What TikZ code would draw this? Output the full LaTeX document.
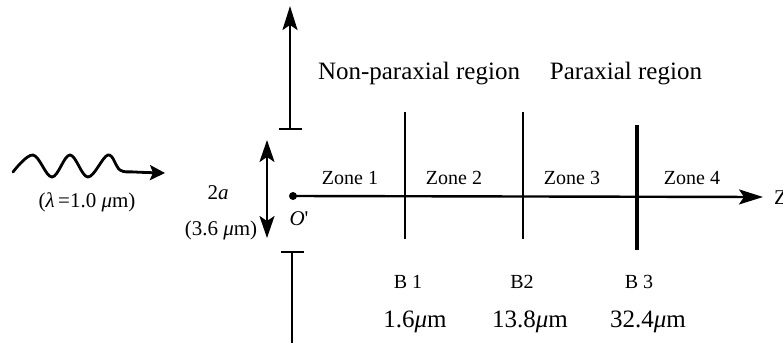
\documentclass[tikz,border=0pt]{standalone}
\usepackage{fontspec}
\setmainfont{Liberation Serif}
\usetikzlibrary{arrows.meta}
\begin{document}
\begin{tikzpicture}[x=1pt,y=-1pt,
  line/.style={line width=2.4pt},
  arr/.style={-{Stealth[length=24pt,width=15pt,inset=5pt]}},
  lbl/.style={inner sep=0pt,font=\fontsize{21}{23}\selectfont},
  big/.style={inner sep=0pt,font=\fontsize{25}{28}\selectfont},
  zone/.style={inner sep=0pt,font=\fontsize{20}{22}\selectfont}]
\useasboundingbox (0,0) rectangle (783,343);
% incident wave
\draw[line width=2.8pt,-{Stealth[length=15pt,width=15pt,inset=3pt]},line cap=round] plot[smooth,tension=0.6] coordinates {(13,172) (33,155) (52,177) (70,155) (88,177) (108,155) (120,170) (135,172) (165,173)};
\node[lbl] (lam) at (87,202) {(\textit{λ}\,=1.0 \textit{μ}m)};
% screen
\coordinate (ut) at (290,6);
\coordinate (ub) at (290,129);
\coordinate (ubl) at (279,129);
\coordinate (ubr) at (302,129);
\draw[line,arr] (ub) -- (ut);
\draw[line] (ubl) -- (ubr);
\coordinate (lt) at (292,252);
\coordinate (lb) at (292,343);
\coordinate (ltl) at (281,252);
\coordinate (ltr) at (304,252);
\draw[line] (lt) -- (lb);
\draw[line] (ltl) -- (ltr);
% aperture
\coordinate (at) at (267,140);
\coordinate (ab) at (267,238);
\draw[line,{Stealth[length=22pt,width=15pt,inset=5pt]}-{Stealth[length=22pt,width=15pt,inset=5pt]}] (at) -- (ab);
\node[lbl] (twoa) at (218,193) {2\textit{a}};
\node[lbl] (ap) at (221,230) {(3.6 \textit{μ}m)};
% axis
\node[circle,fill,inner sep=0pt,minimum size=8pt] (O) at (293,196) {};
\node[lbl] (Ol) at (299,219) {\textit{O}\textquotesingle};
\coordinate (zend) at (763,197);
\draw[line,arr] (O.center) -- (zend);
\node[lbl,anchor=west] (Z) at (774,198) {Z};
% boundaries
\coordinate (b1t) at (405,112); \coordinate (b1b) at (405,239);
\coordinate (b2t) at (523,112); \coordinate (b2b) at (523,239);
\coordinate (b3t) at (637,125); \coordinate (b3b) at (637,250);
\draw[line] (b1t) -- (b1b);
\draw[line] (b2t) -- (b2b);
\draw[line width=3.2pt] (b3t) -- (b3b);
% zone labels
\node[zone] (z1) at (350,178) {Zone 1};
\node[zone] (z2) at (454,178) {Zone 2};
\node[zone] (z3) at (572,178) {Zone 3};
\node[zone] (z4) at (692,178) {Zone 4};
% region labels
\node[big] (np) at (419,74) {Non-paraxial region};
\node[big] (pr) at (626,74) {Paraxial region};
% boundary labels
\node[zone] (B1) at (408,282) {B 1};
\node[zone] (B2) at (522,282) {B2};
\node[zone] (B3) at (639,282) {B 3};
\node[big] (d1) at (415,322) {1.6\textit{μ}m};
\node[big] (d2) at (530,322) {13.8\textit{μ}m};
\node[big] (d3) at (648,322) {32.4\textit{μ}m};
\end{tikzpicture}
\end{document}
